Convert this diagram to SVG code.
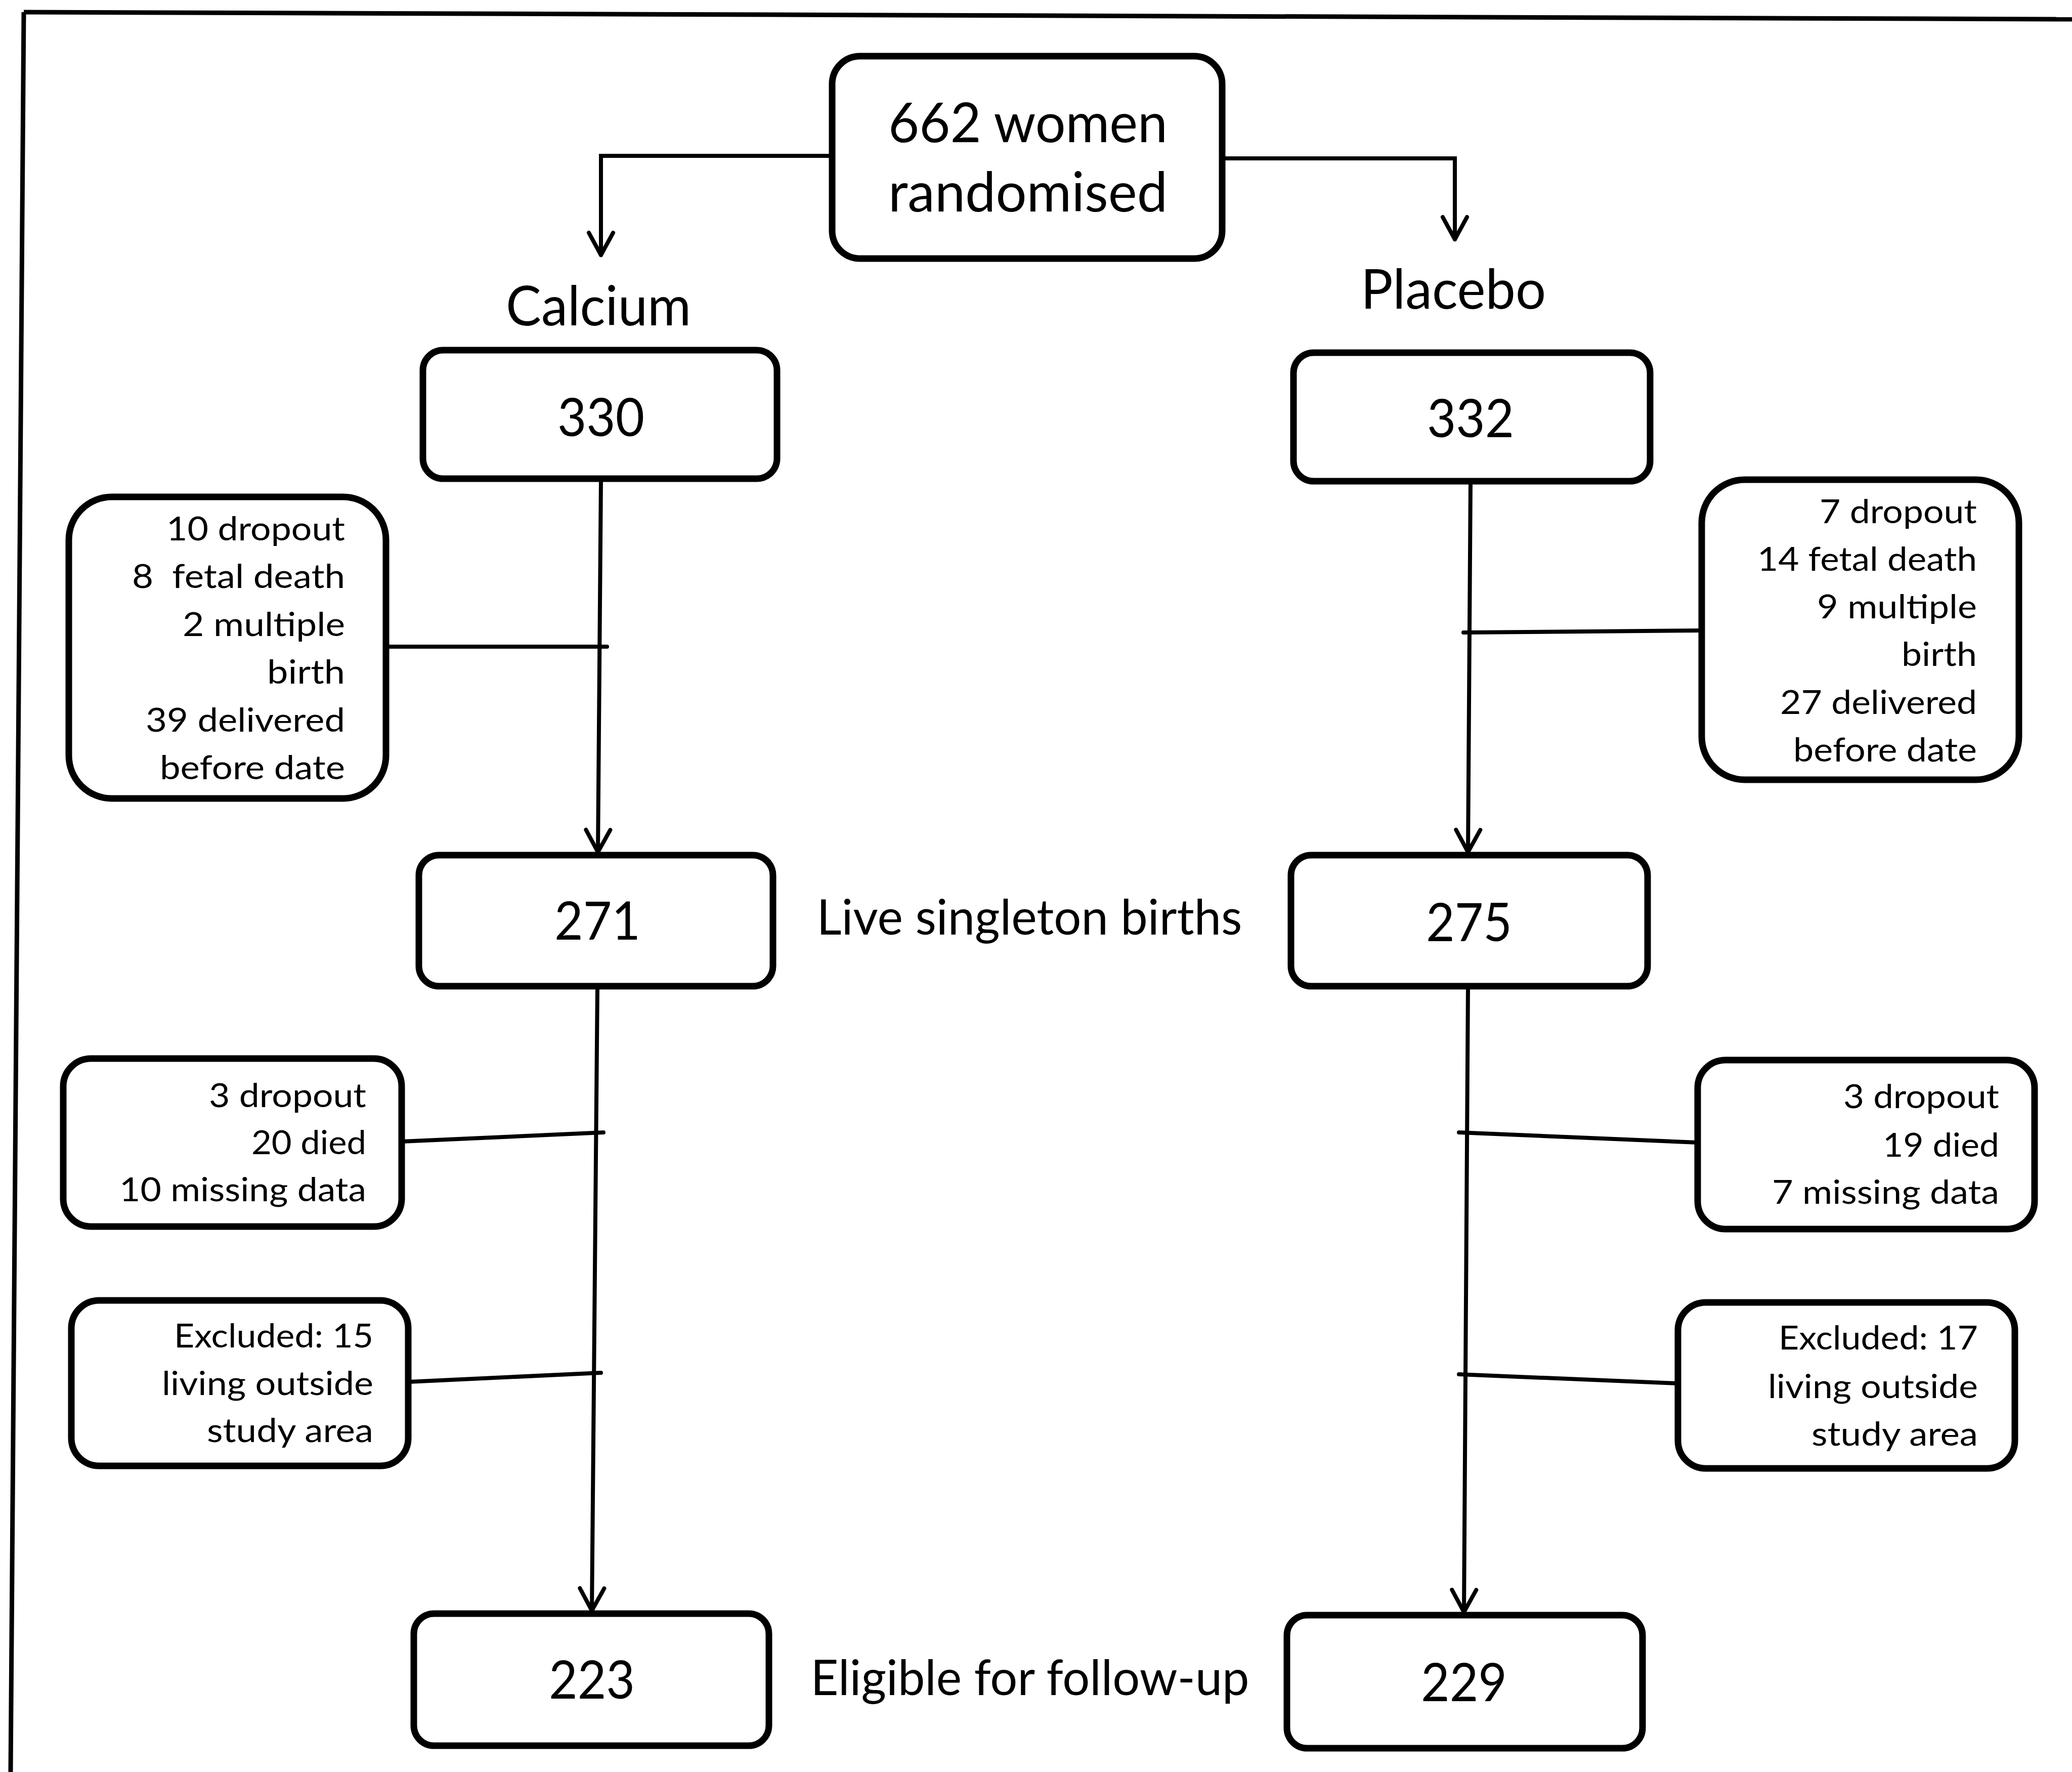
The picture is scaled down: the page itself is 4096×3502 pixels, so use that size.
<svg xmlns="http://www.w3.org/2000/svg" width="4096" height="3502" viewBox="0 0 4096 3502">
  <style>
    .frame { stroke: #000; stroke-width: 9; fill: none; }
    .box { fill: #fff; stroke: #000; stroke-width: 13; }
    .ln { stroke: #000; stroke-width: 8; fill: none; stroke-linecap: round; }
    .arrow { marker-end: url(#vee); }
    text { font-family: Lato, "Liberation Sans", sans-serif; fill: #000; }
    .big { font-size: 108px; text-anchor: middle; }
    .num { font-size: 105px; text-anchor: middle; }
    .mid { font-size: 96px; text-anchor: middle; }
    .small { font-size: 66px; text-anchor: end; }
  </style>
  <defs>
    <!-- open V arrowhead -->
    <marker id="vee" markerUnits="userSpaceOnUse" viewBox="-50 -30 56 60" markerWidth="56" markerHeight="60" refX="0" refY="0" orient="auto" overflow="visible">
      <path d="M-44,-24 L0,0 L-44,24" fill="none" stroke="#000" stroke-width="8" stroke-linecap="round" stroke-linejoin="round"/>
    </marker>
  </defs>

  <rect width="4096" height="3502" fill="#fff"/>

  <!-- outer frame (top and left edges) -->
  <g id="frame">
    <line class="frame" x1="47" y1="24" x2="4096" y2="38"/>
    <line class="frame" x1="47" y1="24" x2="21" y2="3502"/>
  </g>

  <!-- connectors -->
  <g id="connectors">
    <polyline class="ln arrow" points="1645,308 1188,308 1188,504"/>
    <polyline class="ln arrow" points="2416,313 2876,313 2876,473"/>

    <line class="ln arrow" x1="1188" y1="946" x2="1182" y2="1684"/>
    <line class="ln arrow" x1="2907" y1="951" x2="2902" y2="1684"/>

    <line class="ln arrow" x1="1181" y1="1949" x2="1170" y2="3183"/>
    <line class="ln arrow" x1="2902" y1="1949" x2="2894" y2="3186"/>

    <line class="ln" x1="763" y1="1278" x2="1200" y2="1278"/>
    <line class="ln" x1="3364" y1="1246" x2="2893" y2="1250"/>
    <line class="ln" x1="794" y1="2256" x2="1193" y2="2238"/>
    <line class="ln" x1="3356" y1="2258" x2="2884" y2="2238"/>
    <line class="ln" x1="807" y1="2731" x2="1188" y2="2713"/>
    <line class="ln" x1="3317" y1="2734" x2="2884" y2="2716"/>
  </g>

  <!-- main flow nodes -->
  <g id="randomised">
    <rect class="box" x="1645" y="111" width="771" height="400" rx="55"/>
    <text class="big" x="2032" y="281" textLength="552" lengthAdjust="spacingAndGlyphs">662 women</text>
    <text class="big" x="2032" y="418" textLength="552" lengthAdjust="spacingAndGlyphs">randomised</text>
  </g>

  <g id="calcium-label">
    <text class="big" x="1183" y="643" textLength="366" lengthAdjust="spacingAndGlyphs">Calcium</text>
  </g>
  <g id="placebo-label">
    <text class="big" x="2873" y="610" textLength="366" lengthAdjust="spacingAndGlyphs">Placebo</text>
  </g>

  <g id="calcium-330">
    <rect class="box" x="836" y="692" width="700" height="254" rx="40"/>
    <text class="num" x="1188" y="862" textLength="172" lengthAdjust="spacingAndGlyphs">330</text>
  </g>
  <g id="placebo-332">
    <rect class="box" x="2557" y="697" width="705" height="254" rx="40"/>
    <text class="num" x="2907" y="864" textLength="172" lengthAdjust="spacingAndGlyphs">332</text>
  </g>

  <g id="calcium-271">
    <rect class="box" x="828" y="1690" width="700" height="259" rx="40"/>
    <text class="num" x="1181" y="1857" textLength="170" lengthAdjust="spacingAndGlyphs">271</text>
  </g>
  <g id="live-births-label">
    <text class="mid" x="2035" y="1847" textLength="841" lengthAdjust="spacingAndGlyphs">Live singleton births</text>
  </g>
  <g id="placebo-275">
    <rect class="box" x="2552" y="1690" width="705" height="259" rx="40"/>
    <text class="num" x="2904" y="1860" textLength="170" lengthAdjust="spacingAndGlyphs">275</text>
  </g>

  <g id="calcium-223">
    <rect class="box" x="818" y="3189" width="702" height="261" rx="40"/>
    <text class="num" x="1170" y="3357" textLength="170" lengthAdjust="spacingAndGlyphs">223</text>
  </g>
  <g id="eligible-label">
    <text class="mid" x="2036" y="3350" textLength="867" lengthAdjust="spacingAndGlyphs">Eligible for follow-up</text>
  </g>
  <g id="placebo-229">
    <rect class="box" x="2544" y="3192" width="703" height="263" rx="40"/>
    <text class="num" x="2894" y="3362" textLength="170" lengthAdjust="spacingAndGlyphs">229</text>
  </g>

  <!-- exclusion side boxes -->
  <g id="calcium-loss-pregnancy">
    <rect class="box" x="136" y="982" width="627" height="596" rx="85"/>
    <text class="small" x="682" y="1068" textLength="353" lengthAdjust="spacingAndGlyphs">10 dropout</text>
    <text class="small" x="682" y="1162" textLength="421" lengthAdjust="spacingAndGlyphs" xml:space="preserve">8  fetal death</text>
    <text class="small" x="682" y="1257" textLength="321" lengthAdjust="spacingAndGlyphs">2 multiple</text>
    <text class="small" x="682" y="1351" textLength="154" lengthAdjust="spacingAndGlyphs">birth</text>
    <text class="small" x="682" y="1446" textLength="394" lengthAdjust="spacingAndGlyphs">39 delivered</text>
    <text class="small" x="682" y="1540" textLength="366" lengthAdjust="spacingAndGlyphs">before date</text>
  </g>

  <g id="placebo-loss-pregnancy">
    <rect class="box" x="3364" y="948" width="627" height="593" rx="85"/>
    <text class="small" x="3908" y="1034" textLength="311" lengthAdjust="spacingAndGlyphs">7 dropout</text>
    <text class="small" x="3908" y="1128" textLength="434" lengthAdjust="spacingAndGlyphs">14 fetal death</text>
    <text class="small" x="3908" y="1222" textLength="316" lengthAdjust="spacingAndGlyphs">9 multiple</text>
    <text class="small" x="3908" y="1316" textLength="149" lengthAdjust="spacingAndGlyphs">birth</text>
    <text class="small" x="3908" y="1411" textLength="389" lengthAdjust="spacingAndGlyphs">27 delivered</text>
    <text class="small" x="3908" y="1505" textLength="363" lengthAdjust="spacingAndGlyphs">before date</text>
  </g>

  <g id="calcium-loss-infancy">
    <rect class="box" x="125" y="2092" width="669" height="332" rx="55"/>
    <text class="small" x="724" y="2188" textLength="311" lengthAdjust="spacingAndGlyphs">3 dropout</text>
    <text class="small" x="724" y="2281" textLength="227" lengthAdjust="spacingAndGlyphs">20 died</text>
    <text class="small" x="724" y="2374" textLength="488" lengthAdjust="spacingAndGlyphs">10 missing data</text>
  </g>

  <g id="placebo-loss-infancy">
    <rect class="box" x="3356" y="2095" width="666" height="334" rx="55"/>
    <text class="small" x="3952" y="2190" textLength="308" lengthAdjust="spacingAndGlyphs">3 dropout</text>
    <text class="small" x="3952" y="2286" textLength="230" lengthAdjust="spacingAndGlyphs">19 died</text>
    <text class="small" x="3952" y="2379" textLength="449" lengthAdjust="spacingAndGlyphs">7 missing data</text>
  </g>

  <g id="calcium-excluded">
    <rect class="box" x="141" y="2570" width="666" height="327" rx="55"/>
    <text class="small" x="738" y="2663" textLength="394" lengthAdjust="spacingAndGlyphs">Excluded: 15</text>
    <text class="small" x="738" y="2757" textLength="418" lengthAdjust="spacingAndGlyphs">living outside</text>
    <text class="small" x="738" y="2850" textLength="329" lengthAdjust="spacingAndGlyphs">study area</text>
  </g>

  <g id="placebo-excluded">
    <rect class="box" x="3317" y="2574" width="666" height="328" rx="55"/>
    <text class="small" x="3910" y="2667" textLength="394" lengthAdjust="spacingAndGlyphs">Excluded: 17</text>
    <text class="small" x="3910" y="2763" textLength="415" lengthAdjust="spacingAndGlyphs">living outside</text>
    <text class="small" x="3910" y="2857" textLength="329" lengthAdjust="spacingAndGlyphs">study area</text>
  </g>
</svg>
